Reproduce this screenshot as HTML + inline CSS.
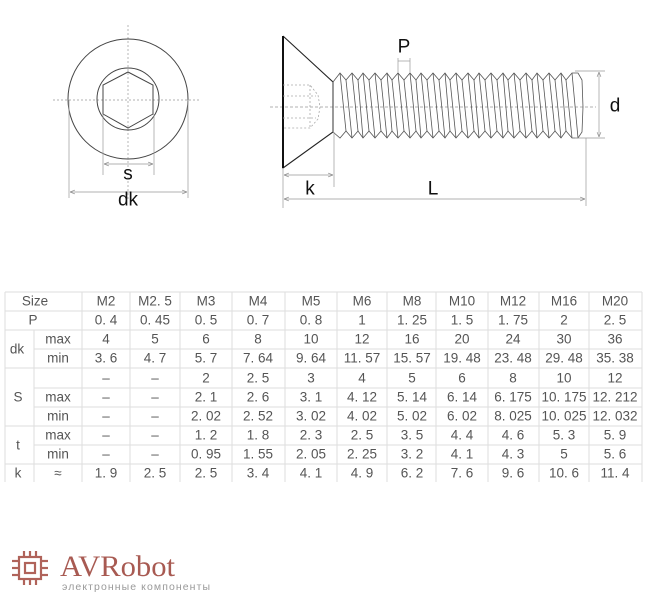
<!DOCTYPE html>
<html><head><meta charset="utf-8"><style>
html,body{margin:0;padding:0;background:#fff;width:654px;height:600px;overflow:hidden}
svg{display:block}
.t{font-family:"Liberation Sans","Noto Sans CJK SC",sans-serif;font-size:13.5px;fill:#555;text-anchor:middle;dominant-baseline:central}
</style></head><body>
<svg width="654" height="600" viewBox="0 0 654 600" xmlns="http://www.w3.org/2000/svg">
<defs>
<marker id="a" viewBox="0 0 10 10" refX="10" refY="5" markerWidth="7" markerHeight="7" orient="auto-start-reverse"><path d="M0,1 L10,5 L0,9" fill="none" stroke="#888" stroke-width="1.2"/></marker>
</defs>
<g stroke="#999" stroke-width="0.7" stroke-dasharray="2,2" fill="none">
<line x1="53" y1="100" x2="200" y2="100"/>
<line x1="128" y1="25" x2="128" y2="200"/>
</g>
<circle cx="128" cy="99" r="60" fill="none" stroke="#444" stroke-width="1"/>
<circle cx="128" cy="99" r="31" fill="none" stroke="#444" stroke-width="1"/>
<polygon points="128,72 153,85 153,114 128,128 103,114 103,85" fill="none" stroke="#444" stroke-width="1"/>
<g stroke="#999" stroke-width="0.7" fill="none">
<line x1="103" y1="114" x2="103" y2="175"/><line x1="154" y1="114" x2="154" y2="175"/>
<line x1="104" y1="164" x2="153" y2="164" marker-start="url(#a)" marker-end="url(#a)"/>
<line x1="69" y1="100" x2="69" y2="198"/><line x1="188" y1="100" x2="188" y2="198"/>
<line x1="70" y1="192" x2="187" y2="192" marker-start="url(#a)" marker-end="url(#a)"/>
</g>
<text x="128" y="174" font-family="Liberation Sans,sans-serif" font-size="19" text-anchor="middle" dominant-baseline="central" fill="#111">s</text>
<text x="128" y="200" font-family="Liberation Sans,sans-serif" font-size="19" text-anchor="middle" dominant-baseline="central" fill="#111">dk</text>
<line x1="270" y1="107" x2="596" y2="107" stroke="#999" stroke-width="0.7" stroke-dasharray="3,2"/>
<polyline points="283,36 333,82 333,132 283,168 283,36" fill="none" stroke="#222" stroke-width="1.1"/>
<line x1="283" y1="36" x2="283" y2="168" stroke="#111" stroke-width="2"/>
<g stroke="#aaa" stroke-width="0.8" stroke-dasharray="2,2" fill="none">
<polyline points="283,85 310,85 318,95 320,107 318,119 310,128 283,128"/>
<line x1="283" y1="96" x2="316" y2="96"/><line x1="283" y1="118" x2="316" y2="118"/>
<line x1="310" y1="85" x2="310" y2="128"/>
</g>
<g stroke="#555" stroke-width="0.8" fill="none">
<path d="M333,82 L340,73 L346,80 L352,73 L358,80 L363,73 L369,80 L375,73 L381,80 L387,73 L392,80 L398,73 L404,80 L410,73 L416,80 L421,73 L427,80 L433,73 L439,80 L445,73 L450,80 L456,73 L462,80 L468,73 L474,80 L479,73 L485,80 L491,73 L497,80 L503,73 L508,80 L514,73 L520,80 L526,73 L532,80 L537,73 L543,80 L549,73 L555,80 L561,73 L566,80 L572,73 L578,73 L582,80 L583,107 L582,132 L578,138 L572,138 L566,131 L561,138 L555,131 L549,138 L543,131 L537,138 L532,131 L526,138 L520,131 L514,138 L508,131 L503,138 L497,131 L491,138 L485,131 L479,138 L474,131 L468,138 L462,131 L456,138 L450,131 L445,138 L439,131 L433,138 L427,131 L421,138 L416,131 L410,138 L404,131 L398,138 L392,131 L387,138 L381,131 L375,138 L369,131 L363,138 L358,131 L352,138 L346,131 L340,138 L333,132 Z"/>
<path d="M340,73 L346,131 M346,80 L352,138 M352,73 L358,131 M358,80 L363,138 M363,73 L369,131 M369,80 L375,138 M375,73 L381,131 M381,80 L387,138 M387,73 L392,131 M392,80 L398,138 M398,73 L404,131 M404,80 L410,138 M410,73 L416,131 M416,80 L421,138 M421,73 L427,131 M427,80 L433,138 M433,73 L439,131 M439,80 L445,138 M445,73 L450,131 M450,80 L456,138 M456,73 L462,131 M462,80 L468,138 M468,73 L474,131 M474,80 L479,138 M479,73 L485,131 M485,80 L491,138 M491,73 L497,131 M497,80 L503,138 M503,73 L508,131 M508,80 L514,138 M514,73 L520,131 M520,80 L526,138 M526,73 L532,131 M532,80 L537,138 M537,73 L543,131 M543,80 L549,138 M549,73 L555,131 M555,80 L561,138 M561,73 L566,131 M566,80 L572,138 M572,73 L578,138"/>
</g>
<g stroke="#999" stroke-width="0.7" fill="none">
<line x1="398" y1="58" x2="398" y2="73"/><line x1="410" y1="58" x2="410" y2="73"/>
<line x1="398" y1="61" x2="410" y2="61"/>
<line x1="575" y1="71" x2="605" y2="71"/><line x1="575" y1="138" x2="605" y2="138"/>
<line x1="599" y1="72" x2="599" y2="137" marker-start="url(#a)" marker-end="url(#a)"/>
<line x1="283" y1="168" x2="283" y2="208"/><line x1="334" y1="132" x2="334" y2="187"/>
<line x1="586" y1="138" x2="586" y2="206"/>
<line x1="284" y1="175" x2="333" y2="175" marker-start="url(#a)" marker-end="url(#a)"/>
<line x1="284" y1="199" x2="585" y2="199" marker-start="url(#a)" marker-end="url(#a)"/>
</g>
<g font-family="Liberation Sans,sans-serif" font-size="19" text-anchor="middle" dominant-baseline="central" fill="#111">
<text x="404" y="47">P</text><text x="615" y="106">d</text>
<text x="310" y="189">k</text><text x="433" y="189">L</text>
</g>
<g stroke="#ddd" stroke-width="1" fill="none">
<line x1="5" y1="292" x2="642" y2="292"/><line x1="5" y1="311" x2="642" y2="311"/>
<line x1="5" y1="330" x2="642" y2="330"/><line x1="34" y1="349" x2="642" y2="349"/>
<line x1="5" y1="368" x2="642" y2="368"/><line x1="34" y1="388" x2="642" y2="388"/>
<line x1="34" y1="407" x2="642" y2="407"/><line x1="5" y1="426" x2="642" y2="426"/>
<line x1="34" y1="445" x2="642" y2="445"/><line x1="5" y1="464" x2="642" y2="464"/>
<line x1="5" y1="292" x2="5" y2="482"/><line x1="34" y1="330" x2="34" y2="482"/>
<line x1="82" y1="292" x2="82" y2="482"/><line x1="130" y1="292" x2="130" y2="482"/>
<line x1="180" y1="292" x2="180" y2="482"/><line x1="232" y1="292" x2="232" y2="482"/>
<line x1="285" y1="292" x2="285" y2="482"/><line x1="337" y1="292" x2="337" y2="482"/>
<line x1="387" y1="292" x2="387" y2="482"/><line x1="436" y1="292" x2="436" y2="482"/>
<line x1="488" y1="292" x2="488" y2="482"/><line x1="539" y1="292" x2="539" y2="482"/>
<line x1="589" y1="292" x2="589" y2="482"/><line x1="642" y1="292" x2="642" y2="482"/>
</g>
<g>
<text x="35" y="301" class="t">Size</text>
<text x="33" y="320" class="t">P</text>
<text x="17" y="349" class="t">dk</text><text x="58" y="339" class="t">max</text><text x="58" y="358" class="t">min</text>
<text x="18" y="397" class="t">S</text><text x="58" y="397" class="t">max</text><text x="58" y="416" class="t">min</text>
<text x="18" y="445" class="t">t</text><text x="58" y="435" class="t">max</text><text x="58" y="454" class="t">min</text>
<text x="18" y="473" class="t">k</text><text x="58" y="473" class="t">≈</text>
</g>
<g>
<text class="t" x="106" y="301">M2</text><text class="t" x="155" y="301">M2. 5</text><text class="t" x="206" y="301">M3</text><text class="t" x="258" y="301">M4</text><text class="t" x="311" y="301">M5</text><text class="t" x="362" y="301">M6</text><text class="t" x="412" y="301">M8</text><text class="t" x="462" y="301">M10</text><text class="t" x="513" y="301">M12</text><text class="t" x="564" y="301">M16</text><text class="t" x="615" y="301">M20</text>
<text class="t" x="106" y="320">0. 4</text><text class="t" x="155" y="320">0. 45</text><text class="t" x="206" y="320">0. 5</text><text class="t" x="258" y="320">0. 7</text><text class="t" x="311" y="320">0. 8</text><text class="t" x="362" y="320">1</text><text class="t" x="412" y="320">1. 25</text><text class="t" x="462" y="320">1. 5</text><text class="t" x="513" y="320">1. 75</text><text class="t" x="564" y="320">2</text><text class="t" x="615" y="320">2. 5</text>
<text class="t" x="106" y="339">4</text><text class="t" x="155" y="339">5</text><text class="t" x="206" y="339">6</text><text class="t" x="258" y="339">8</text><text class="t" x="311" y="339">10</text><text class="t" x="362" y="339">12</text><text class="t" x="412" y="339">16</text><text class="t" x="462" y="339">20</text><text class="t" x="513" y="339">24</text><text class="t" x="564" y="339">30</text><text class="t" x="615" y="339">36</text>
<text class="t" x="106" y="358">3. 6</text><text class="t" x="155" y="358">4. 7</text><text class="t" x="206" y="358">5. 7</text><text class="t" x="258" y="358">7. 64</text><text class="t" x="311" y="358">9. 64</text><text class="t" x="362" y="358">11. 57</text><text class="t" x="412" y="358">15. 57</text><text class="t" x="462" y="358">19. 48</text><text class="t" x="513" y="358">23. 48</text><text class="t" x="564" y="358">29. 48</text><text class="t" x="615" y="358">35. 38</text>
<text class="t" x="106" y="378">–</text><text class="t" x="155" y="378">–</text><text class="t" x="206" y="378">2</text><text class="t" x="258" y="378">2. 5</text><text class="t" x="311" y="378">3</text><text class="t" x="362" y="378">4</text><text class="t" x="412" y="378">5</text><text class="t" x="462" y="378">6</text><text class="t" x="513" y="378">8</text><text class="t" x="564" y="378">10</text><text class="t" x="615" y="378">12</text>
<text class="t" x="106" y="397">–</text><text class="t" x="155" y="397">–</text><text class="t" x="206" y="397">2. 1</text><text class="t" x="258" y="397">2. 6</text><text class="t" x="311" y="397">3. 1</text><text class="t" x="362" y="397">4. 12</text><text class="t" x="412" y="397">5. 14</text><text class="t" x="462" y="397">6. 14</text><text class="t" x="513" y="397">6. 175</text><text class="t" x="564" y="397">10. 175</text><text class="t" x="615" y="397">12. 212</text>
<text class="t" x="106" y="416">–</text><text class="t" x="155" y="416">–</text><text class="t" x="206" y="416">2. 02</text><text class="t" x="258" y="416">2. 52</text><text class="t" x="311" y="416">3. 02</text><text class="t" x="362" y="416">4. 02</text><text class="t" x="412" y="416">5. 02</text><text class="t" x="462" y="416">6. 02</text><text class="t" x="513" y="416">8. 025</text><text class="t" x="564" y="416">10. 025</text><text class="t" x="615" y="416">12. 032</text>
<text class="t" x="106" y="435">–</text><text class="t" x="155" y="435">–</text><text class="t" x="206" y="435">1. 2</text><text class="t" x="258" y="435">1. 8</text><text class="t" x="311" y="435">2. 3</text><text class="t" x="362" y="435">2. 5</text><text class="t" x="412" y="435">3. 5</text><text class="t" x="462" y="435">4. 4</text><text class="t" x="513" y="435">4. 6</text><text class="t" x="564" y="435">5. 3</text><text class="t" x="615" y="435">5. 9</text>
<text class="t" x="106" y="454">–</text><text class="t" x="155" y="454">–</text><text class="t" x="206" y="454">0. 95</text><text class="t" x="258" y="454">1. 55</text><text class="t" x="311" y="454">2. 05</text><text class="t" x="362" y="454">2. 25</text><text class="t" x="412" y="454">3. 2</text><text class="t" x="462" y="454">4. 1</text><text class="t" x="513" y="454">4. 3</text><text class="t" x="564" y="454">5</text><text class="t" x="615" y="454">5. 6</text>
<text class="t" x="106" y="473">1. 9</text><text class="t" x="155" y="473">2. 5</text><text class="t" x="206" y="473">2. 5</text><text class="t" x="258" y="473">3. 4</text><text class="t" x="311" y="473">4. 1</text><text class="t" x="362" y="473">4. 9</text><text class="t" x="412" y="473">6. 2</text><text class="t" x="462" y="473">7. 6</text><text class="t" x="513" y="473">9. 6</text><text class="t" x="564" y="473">10. 6</text><text class="t" x="615" y="473">11. 4</text>
</g>
<g stroke="#b0635a" stroke-width="2.2" fill="none">
<rect x="19" y="557" width="22" height="22"/>
<rect x="25" y="563" width="10" height="10"/>
<line x1="12" y1="561" x2="19" y2="561"/><line x1="12" y1="568" x2="19" y2="568"/><line x1="12" y1="575" x2="19" y2="575"/>
<line x1="41" y1="561" x2="48" y2="561"/><line x1="41" y1="568" x2="48" y2="568"/><line x1="41" y1="575" x2="48" y2="575"/>
<line x1="24" y1="551" x2="24" y2="557"/><line x1="30" y1="551" x2="30" y2="557"/><line x1="36" y1="551" x2="36" y2="557"/>
<line x1="24" y1="579" x2="24" y2="585"/><line x1="30" y1="579" x2="30" y2="585"/><line x1="36" y1="579" x2="36" y2="585"/>
</g>
<text x="60" y="576" font-family="Liberation Serif,serif" font-size="30" fill="#a85a52" textLength="115" lengthAdjust="spacingAndGlyphs">AVRobot</text>
<text x="62" y="590" font-family="Liberation Sans,sans-serif" font-size="10.5" fill="#999" textLength="148">электронные компоненты</text>
</svg>
</body></html>
